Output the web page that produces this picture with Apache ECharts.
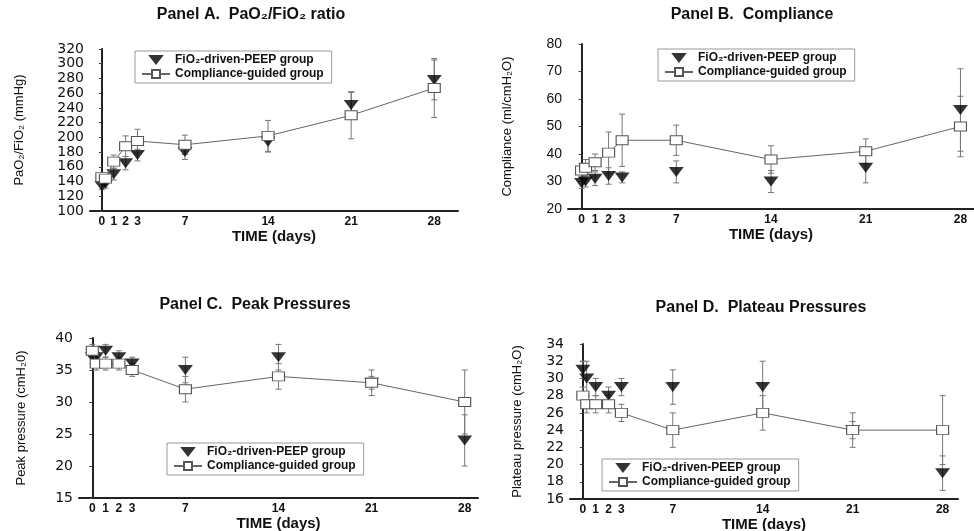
<!DOCTYPE html>
<html>
<head>
<meta charset="utf-8">
<script src="https://cdn.jsdelivr.net/npm/echarts@6/dist/echarts.min.js"></script>
<style>
  html, body { margin: 0; padding: 0; background: #fff; }
  #main { width: 974px; height: 531px; }
</style>
</head>
<body>
<div id="main"></div>
<script>
// days of measurement (second point is the post-PEEP baseline, drawn just after day 0)
var days = [0, 0.3, 1, 2, 3, 7, 14, 21, 28];
var xTickDays = [0, 1, 2, 3, 7, 14, 21, 28];

var groupPeep = "FiO\u2082-driven-PEEP group";
var groupComp = "Compliance-guided group";

// Panel A  PaO2/FiO2
var aPeep = [134, 137, 150, 165, 176, 180, 194, 244, 278];
var aPeepErr = [5, 6, 8, 9, 8, 10, 14, 17, 27];
var aComp = [146, 144, 167, 188, 195, 190, 202, 230, 267];
var aCompErr = [5, 5, 9, 14, 16, 13, 21, 32, 40];

// Panel B  Compliance
var bPeep = [29.5, 30, 31, 32, 31.5, 33.5, 30, 35, 56];
var bPeepErr = [2, 2, 2.5, 3, 2, 4, 4, 5.5, 15];
var bComp = [34, 35, 37, 40.5, 45, 45, 38, 41, 50];
var bCompErr = [2.5, 3, 3, 7.5, 9.5, 5.5, 5, 4.5, 11];

// Panel C  Peak pressures
var cPeep = [37, 37, 38, 37, 36, 35, 37, 33, 24];
var cPeepErr = [1, 1, 1, 1, 1, 2, 2, 1, 4];
var cComp = [38, 36, 36, 36, 35, 32, 34, 33, 30];
var cCompErr = [1, 1, 1, 1, 1, 2, 2, 2, 5];

// Panel D  Plateau pressures
var dPeep = [31, 30, 29, 28, 29, 29, 29, 24, 19];
var dPeepErr = [1, 2, 1, 1, 1, 2, 3, 1, 2];
var dComp = [28, 27, 27, 27, 26, 24, 26, 24, 24];
var dCompErr = [1, 1, 1, 1, 1, 2, 2, 2, 4];

var FONT = "Liberation Sans";
var DOWN_TRI = "path://M0,0 L14,0 L7,9 Z";

function pairs(vals) {
    return days.map(function (d, i) { return [d, vals[i]]; });
}
function errPairs(vals, err) {
    return days.map(function (d, i) { return [d, vals[i] - err[i], vals[i] + err[i]]; });
}

function errRender(params, api) {
    var x = api.value(0);
    var top = api.coord([x, api.value(2)]);
    var bot = api.coord([x, api.value(1)]);
    var w = 3;
    var st = { stroke: "#777", lineWidth: 1 };
    return {
        type: "group",
        children: [
            { type: "line", shape: { x1: top[0], y1: top[1], x2: bot[0], y2: bot[1] }, style: st },
            { type: "line", shape: { x1: top[0] - w, y1: top[1], x2: top[0] + w, y2: top[1] }, style: st },
            { type: "line", shape: { x1: bot[0] - w, y1: bot[1], x2: bot[0] + w, y2: bot[1] }, style: st }
        ]
    };
}

var panels = [
    { title: "Panel A.  PaO\u2082/FiO\u2082 ratio", tx: 251, ty: 7,
      grid: { left: 90, top: 49, width: 368, height: 162 }, xmax: 30,
      ymin: 100, ymax: 320, yint: 20, yfont: "DejaVu Sans", yname: "PaO\u2082/FiO\u2082 (mmHg)", ygap: 64, xgap: 18,
      legend: { left: 135, top: 51 },
      peep: aPeep, peepErr: aPeepErr, comp: aComp, compErr: aCompErr },
    { title: "Panel B.  Compliance", tx: 752, ty: 7,
      grid: { left: 568, top: 44, width: 406, height: 165 }, xmax: 29,
      ymin: 20, ymax: 80, yint: 10, yfont: FONT, yname: "Compliance (ml/cmH\u2082O)", ygap: 54, xgap: 17,
      legend: { left: 658, top: 49 },
      peep: bPeep, peepErr: bPeepErr, comp: bComp, compErr: bCompErr },
    { title: "Panel C.  Peak Pressures", tx: 255, ty: 297,
      grid: { left: 79, top: 338, width: 399, height: 160 }, xmax: 29,
      ymin: 15, ymax: 40, yint: 5, yfont: "DejaVu Sans", yname: "Peak pressure (cmH\u20820)", ygap: 51, xgap: 15,
      legend: { left: 167, top: 443 },
      peep: cPeep, peepErr: cPeepErr, comp: cComp, compErr: cCompErr },
    { title: "Panel D.  Plateau Pressures", tx: 761, ty: 300,
      grid: { left: 570, top: 344, width: 388, height: 155 }, xmax: 29.2,
      ymin: 16, ymax: 34, yint: 2, yfont: "DejaVu Sans", yname: "Plateau pressure (cmH\u2082O)", ygap: 46, xgap: 14,
      legend: { left: 602, top: 459 },
      peep: dPeep, peepErr: dPeepErr, comp: dComp, compErr: dCompErr }
];

var option = {
    backgroundColor: "#fff",
    animation: false,
    title: [], grid: [], xAxis: [], yAxis: [], legend: [], series: []
};

panels.forEach(function (p, k) {
    option.title.push({
        text: p.title, left: p.tx, top: p.ty, textAlign: "center", padding: 0,
        textStyle: { fontFamily: FONT, fontSize: 16, fontWeight: "bold", color: "#111" }
    });
    var g = p.grid;
    g.outerBoundsMode = "none";
    option.grid.push(g);
    option.xAxis.push({
        type: "value", gridIndex: k, min: -1, max: p.xmax, interval: 1,
        name: "TIME (days)", nameLocation: "middle", nameGap: p.xgap,
        nameTextStyle: { fontFamily: FONT, fontSize: 15, fontWeight: "bold", color: "#111" },
        axisLine: { lineStyle: { color: "#222", width: 2 } },
        axisTick: { show: false },
        splitLine: { show: false },
        axisLabel: {
            margin: 5, fontFamily: FONT, fontSize: 12, fontWeight: "bold", color: "#111",
            showMinLabel: true, showMaxLabel: true,
            formatter: function (v) { return xTickDays.indexOf(v) >= 0 ? String(v) : ""; }
        }
    });
    option.yAxis.push({
        type: "value", gridIndex: k, min: p.ymin, max: p.ymax, interval: p.yint,
        name: p.yname, nameLocation: "middle", nameGap: p.ygap, nameRotate: 90,
        nameTextStyle: { fontFamily: FONT, fontSize: 13, color: "#111" },
        axisLine: { show: true, lineStyle: { color: "#222", width: 2 } },
        axisTick: { show: true, length: 3, lineStyle: { color: "#444" } },
        splitLine: { show: false },
        axisLabel: { margin: 6, fontFamily: p.yfont, fontSize: 14, color: "#111" }
    });
    option.legend.push({
        left: p.legend.left, top: p.legend.top, orient: "vertical",
        data: [{ name: groupPeep, icon: DOWN_TRI }, { name: groupComp }],
        backgroundColor: "#fff", borderColor: "#999", borderWidth: 1,
        padding: [3, 8, 3, 6], itemGap: 2, itemWidth: 28, itemHeight: 10,
        selectedMode: false,
        textStyle: { fontFamily: FONT, fontSize: 12, fontWeight: "bold", color: "#111" }
    });
    option.series.push({
        type: "custom", name: "errPeep" + k, xAxisIndex: k, yAxisIndex: k, z: 1,
        renderItem: errRender, encode: { x: 0, y: [1, 2] },
        data: errPairs(p.peep, p.peepErr)
    });
    option.series.push({
        type: "custom", name: "errComp" + k, xAxisIndex: k, yAxisIndex: k, z: 1,
        renderItem: errRender, encode: { x: 0, y: [1, 2] },
        data: errPairs(p.comp, p.compErr)
    });
    option.series.push({
        type: "scatter", name: groupPeep, xAxisIndex: k, yAxisIndex: k, z: 2,
        symbol: DOWN_TRI, symbolSize: [15, 10],
        itemStyle: { color: "#000" },
        data: pairs(p.peep)
    });
    option.series.push({
        type: "line", name: groupComp, xAxisIndex: k, yAxisIndex: k, z: 3,
        symbol: "rect", symbolSize: [12, 9], showAllSymbol: true,
        itemStyle: { color: "#fff", borderColor: "#555", borderWidth: 1 },
        lineStyle: { color: "#666", width: 1 },
        data: pairs(p.comp)
    });
});

var chart = echarts.init(document.getElementById("main"));
chart.setOption(option);
</script>
</body>
</html>
